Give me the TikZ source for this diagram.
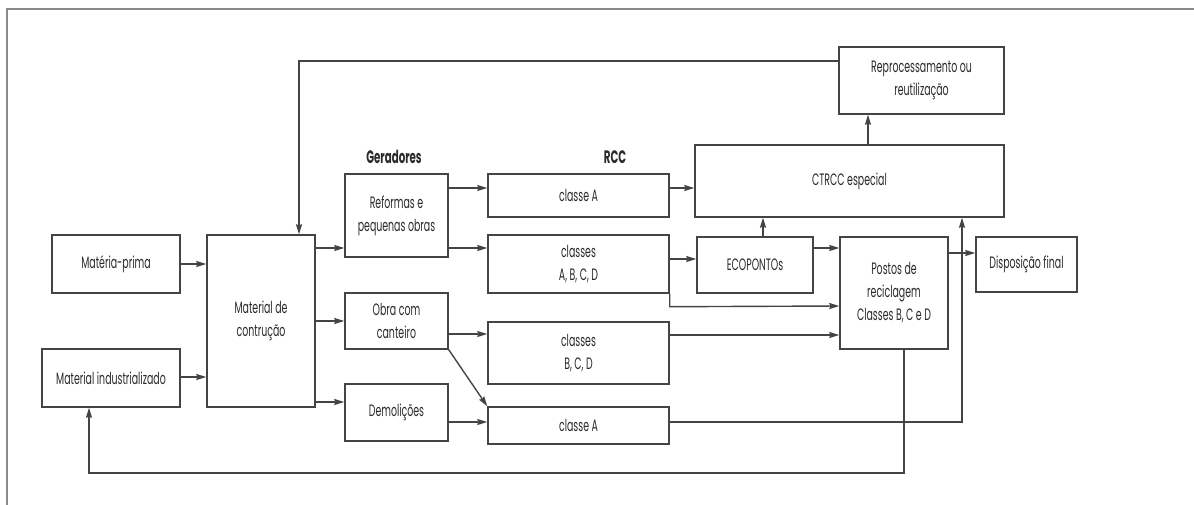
\documentclass[tikz,border=0pt]{standalone}
\usepackage{fontspec}
\setmainfont[FakeStretch=0.57]{Poppins}
\usepackage{tikz}
\usetikzlibrary{arrows.meta, positioning, calc}
\usepackage{xcolor}
\definecolor{linegray}{HTML}{444444}
\definecolor{textgray}{HTML}{2A2A2A}
\definecolor{framegray}{HTML}{8A8A8A}

\begin{document}
\begin{tikzpicture}[
  x=1pt, y=-1pt,
  box/.style  = {draw=linegray, line width=1.4pt, fill=white, text=textgray,
                 inner sep=2pt, align=center, font=\fontsize{16.5}{23}\selectfont},
  head/.style = {text=textgray, font=\fontsize{18}{20}\selectfont\bfseries},
  arr/.style  = {-{Stealth[length=10pt, width=6pt, inset=1pt]}, line width=1.4pt, draw=linegray},
]
\useasboundingbox (0,0) rectangle (1194,504);
\draw[framegray, line width=1.8pt] (7,9) rectangle (1220,530);

% ── Inputs ───────────────────────────────────────────────────────────────────
\node[box, minimum width=128pt, minimum height=58pt] (mp)  at (116,264) {Matéria-prima};
\node[box, minimum width=138pt, minimum height=58pt] (mi)  at (111,378) {Material industrializado};
\node[box, minimum width=108pt, minimum height=172pt] (mc) at (261,321) {Material de\\contrução};

\draw[arr] (mp.east) -- (mp.east -| mc.west);
\draw[arr] (mi.east |- 0,377) -- (mc.west |- 0,377);

% ── Geradores ────────────────────────────────────────────────────────────────
\node[box, minimum width=103pt, minimum height=83pt] (ref)  at (396.5,215.5) {Reformas e\\pequenas obras};
\node[box, minimum width=103pt, minimum height=56pt] (obra) at (396.5,321) {Obra com\\canteiro};
\node[box, minimum width=103pt, minimum height=57pt] (dem)  at (396.5,412.5) {Demolições};
\node[head] (ger) at (394,157) {Geradores};

\draw[arr] (mc.east |- 0,248) -- (ref.west |- 0,248);
\draw[arr] (mc.east |- obra.west) -- (obra.west);
\draw[arr] (mc.east |- 0,402) -- (dem.west |- 0,402);

% ── RCC ──────────────────────────────────────────────────────────────────────
\node[box, minimum width=181pt, minimum height=43pt] (ca1)   at (578.5,195.5) {classe A};
\node[box, minimum width=181pt, minimum height=58pt] (cabcd) at (578.5,264) {classes\\A, B, C, D};
\node[box, minimum width=181pt, minimum height=62pt] (cbcd)  at (578.5,353) {classes\\B, C, D};
\node[box, minimum width=181pt, minimum height=37pt] (ca2)   at (578.5,425.5) {classe A};
\node[head] (rcc) at (615,157) {RCC};

\draw[arr] (ref.east |- 0,188) -- (ca1.west |- 0,188);
\draw[arr] (ref.east |- 0,248) -- (cabcd.west |- 0,248);
\draw[arr] (obra.east |- 0,334) -- (cbcd.west |- 0,334);
\draw[arr] (obra.south east) -- (ca2.north west);
\draw[arr] (dem.east |- 0,422) -- (ca2.west |- 0,422);

% ── Destinos ─────────────────────────────────────────────────────────────────
\node[box, minimum width=309pt, minimum height=72pt] (ctrcc) at (849.5,181) {CTRCC especial};
\node[box, minimum width=165pt, minimum height=67pt] (rep)   at (921.5,80.5) {Reprocessamento ou\\reutilização};
\node[box, minimum width=116pt, minimum height=56pt] (eco)   at (755,265) {ECOPONTOs};
\node[box, minimum width=108pt, minimum height=112pt] (pos)  at (894,293) {Postos de\\reciclagem\\Classes B, C e D};
\node[box, minimum width=101pt, minimum height=55pt] (disp)  at (1026.5,264.5) {Disposição final};

\draw[arr] (ca1.east |- 0,188) -- (ctrcc.west |- 0,188);
\draw[arr] (cabcd.east |- 0,259) -- (eco.west |- 0,259);
\draw[arr] (cabcd.south east) -- ++(0,13) -- (pos.west |- 0,306);
\draw[arr] (cbcd.east |- 0,335) -- (pos.west |- 0,335);
\draw[arr] (eco.north -| 763,0) -- (ctrcc.south -| 763,0);
\draw[arr] (eco.east |- 0,248) -- (pos.west |- 0,248);
\draw[arr] (pos.east |- 0,253) -- (disp.west |- 0,253);
\draw[arr] (ca2.east |- 0,422) -| (ctrcc.south -| 962,0);
\draw[arr] (ctrcc.north -| 868,0) -- (rep.south -| 868,0);

% ── Retornos ─────────────────────────────────────────────────────────────────
\coordinate (low) at (89,473);
\draw[arr] (rep.west |- 0,61) -| (mc.north -| 299,0);
\draw[arr] (pos.south -| 904,0) |- (low) -- (mi.south -| low);

\end{tikzpicture}
\end{document}
